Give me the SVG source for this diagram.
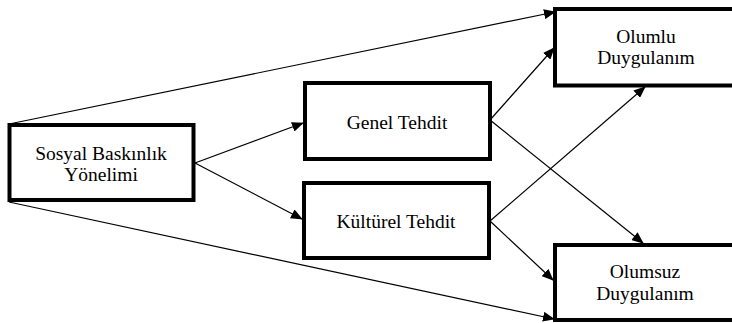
<svg xmlns="http://www.w3.org/2000/svg" width="732" height="323" viewBox="0 0 732 323">
<style>
.box{fill:#fff;stroke:#000;stroke-width:4}
.t{font-family:'Liberation Serif','Times New Roman',serif;font-size:19.5px;fill:#000;text-anchor:middle}
.c{stroke:#000;stroke-width:1.2;fill:none;marker-end:url(#ah)}
</style>
<defs>
<marker id="ah" markerUnits="userSpaceOnUse" markerWidth="12" markerHeight="10" refX="11" refY="5" orient="auto">
<path d="M0,0 L12,5 L0,10 Z" fill="#000"/>
</marker>
</defs>
<rect width="732" height="323" fill="#fff"/>
<g id="connectors">
<line class="c" x1="9" y1="124" x2="555" y2="12"/>
<line class="c" x1="9" y1="202" x2="554" y2="319"/>
<line class="c" x1="195" y1="163" x2="303" y2="123"/>
<line class="c" x1="195" y1="163" x2="302" y2="219"/>
<line class="c" x1="490" y1="120" x2="554" y2="48"/>
<line class="c" x1="490" y1="120" x2="643" y2="243"/>
<line class="c" x1="490" y1="221" x2="645" y2="87"/>
<line class="c" x1="490" y1="221" x2="553" y2="280"/>
</g>
<g id="sosyal">
<rect class="box" x="9.5" y="125" width="184" height="75"/>
<text class="t" x="101" y="160">Sosyal Baskınlık</text>
<text class="t" x="101" y="181">Yönelimi</text>
</g>
<g id="genel">
<rect class="box" x="305" y="83" width="185" height="76"/>
<text class="t" x="397" y="129">Genel Tehdit</text>
</g>
<g id="kulturel">
<rect class="box" x="304" y="183" width="185" height="75"/>
<text class="t" x="396" y="228">Kültürel Tehdit</text>
</g>
<g id="olumlu">
<rect class="box" x="555" y="9" width="190" height="76.5"/>
<text class="t" x="646" y="43">Olumlu</text>
<text class="t" x="646" y="64">Duygulanım</text>
</g>
<g id="olumsuz">
<rect class="box" x="555" y="245" width="190" height="75"/>
<text class="t" x="645" y="278">Olumsuz</text>
<text class="t" x="645" y="300">Duygulanım</text>
</g>
</svg>
